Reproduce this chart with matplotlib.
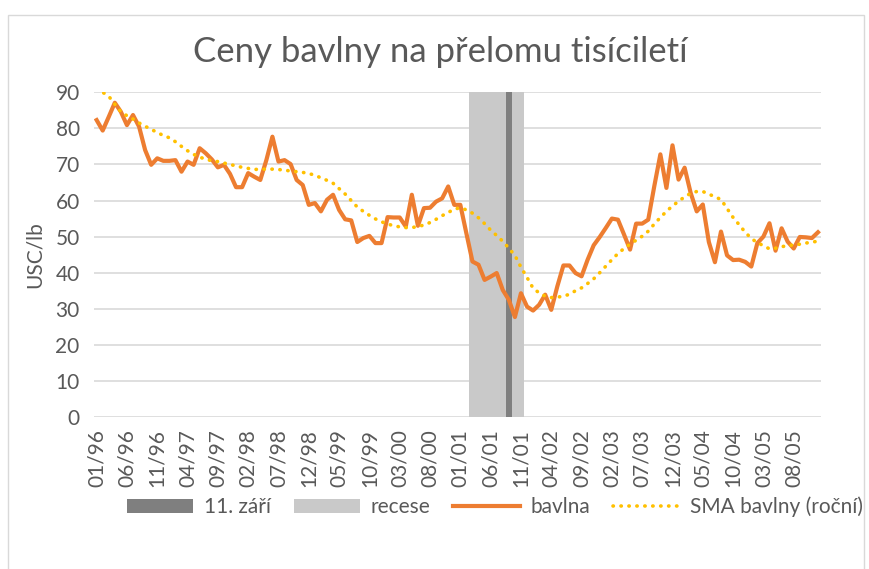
import numpy as np
import pandas as pd
import matplotlib
matplotlib.use('Agg')
from matplotlib import pyplot as plt
from matplotlib.patches import Rectangle

# monthly categories 01/96 .. 12/05
months = pd.date_range('1996-01-01', periods=120, freq='MS').strftime('%m/%y').tolist()

# cotton price, USC/lb
bavlna = [82.3, 79.4, 83.2, 87.1, 84.6, 80.9, 83.7, 80.5, 74.0, 69.9,
          71.7, 71.0, 71.0, 71.2, 68.0, 70.8, 69.9, 74.5, 73.1, 71.4,
          69.2, 69.9, 67.4, 63.7, 63.7, 67.6, 66.6, 65.7, 71.2, 77.7,
          70.8, 71.2, 70.1, 65.7, 64.3, 58.8, 59.3, 57.0, 60.2, 61.6,
          57.4, 54.8, 54.5, 48.5, 49.6, 50.2, 48.2, 48.2, 55.4, 55.3,
          55.3, 52.8, 61.6, 53.0, 57.9, 58.0, 59.7, 60.6, 63.9, 58.8,
          58.8, 50.9, 43.1, 42.2, 38.0, 38.9, 39.9, 35.2, 32.5, 27.7,
          34.3, 30.6, 29.5, 31.1, 33.9, 29.7, 36.2, 42.0, 42.0, 39.9,
          39.0, 43.6, 47.6, 49.9, 52.4, 55.0, 54.7, 50.6, 46.4, 53.6,
          53.6, 54.7, 64.0, 72.8, 63.5, 75.3, 65.8, 69.1, 62.1, 57.0,
          58.9, 48.5, 42.9, 51.4, 44.8, 43.5, 43.6, 43.0, 41.7, 48.2,
          50.0, 53.7, 46.1, 52.3, 48.6, 46.7, 49.9, 49.8, 49.6, 51.2]

# yearly moving average
sma = [90.8, 90.0, 88.9, 86.7, 84.6, 83.5, 82.6, 81.5, 80.6, 79.7,
       78.9, 78.0, 77.4, 76.3, 75.0, 73.8, 72.8, 72.0, 71.5, 71.0,
       70.8, 70.4, 70.0, 69.6, 69.2, 68.9, 68.6, 68.7, 68.7, 68.7,
       68.6, 68.4, 68.2, 68.0, 67.8, 67.5, 67.0, 66.3, 65.6, 64.8,
       63.3, 61.8, 60.0, 58.2, 57.0, 55.9, 54.9, 54.1, 53.5, 53.0,
       52.7, 52.5, 52.5, 52.8, 53.2, 53.9, 54.8, 55.8, 56.7, 57.6,
       58.0, 57.4, 56.5, 55.2, 53.6, 51.8, 50.3, 48.7, 46.8, 44.8,
       41.5, 38.7, 35.7, 34.4, 33.5, 33.1, 33.2, 33.5, 34.0, 35.0,
       35.8, 37.0, 38.3, 40.0, 41.8, 43.6, 45.3, 46.7, 47.9, 49.0,
       50.1, 51.5, 53.5, 55.3, 57.0, 58.5, 59.8, 61.0, 62.0, 62.5,
       62.5, 61.8, 61.0, 60.3, 57.8, 55.3, 53.3, 51.2, 49.5, 48.3,
       47.5, 46.6, 46.8, 47.2, 47.5, 47.7, 47.9, 48.2, 48.5, 48.7]

recese_months = ['03/01', '04/01', '05/01', '06/01', '07/01', '08/01', '09/01', '10/01', '11/01']
zari_months = ['09/01']
bar_top = 90

grey = '#595959'
plt.rcParams['font.family'] = ['Lato', 'DejaVu Sans']

fig = plt.figure(figsize=(8.7, 5.69), dpi=100)
ax = fig.add_axes([93.6 / 870, 1 - 417 / 569, (821 - 93.6) / 870, (417 - 92.3) / 569])

x = np.arange(len(months))
rec_x = [months.index(m) for m in recese_months]
zar_x = [months.index(m) for m in zari_months]

ax.bar(rec_x, [bar_top] * len(rec_x), width=1.0, color='#C9C9C9', zorder=2, label='recese')
ax.bar(zar_x, [bar_top] * len(zar_x), width=1.0, color='#7F7F7F', zorder=3, label='11. září')
ax.plot(x, bavlna, color='#ED7D31', lw=3.0, solid_joinstyle='round', zorder=4, label='bavlna')
ax.plot(x, sma, color='#FFC000', lw=2.6, linestyle=(0, (0.1, 2.1)), dash_capstyle='round',
        zorder=5, label='SMA bavlny (roční)')

ax.set_xlim(-0.5, len(months) - 0.5)
ax.set_ylim(0, 90)
ax.set_yticks(range(0, 91, 10))
ax.set_xticks(x[::5])
ax.set_xticklabels(months[::5], rotation=90)
ax.tick_params(length=0, labelsize=15, labelcolor=grey)
ax.tick_params(axis='y', pad=10)
ax.tick_params(axis='x', pad=9)
ax.grid(axis='y', color='#D9D9D9', lw=1.2, zorder=0)
ax.set_axisbelow(True)
for s in ax.spines.values():
    s.set_visible(False)
ax.set_ylabel('USC/lb', fontsize=15, color=grey, labelpad=8)

fig.text(440 / 870, 1 - 52 / 569, 'Ceny bavlny na přelomu tisíciletí', ha='center', va='center',
         fontsize=25, color=grey)

h, l = ax.get_legend_handles_labels()
by_label = dict(zip(l, h))
leg_order = ['11. září', 'recese', 'bavlna', 'SMA bavlny (roční)']
leg = fig.legend([by_label[k] for k in leg_order], leg_order, loc='center',
                 bbox_to_anchor=(495 / 870, 1 - 507 / 569), ncol=4, frameon=False,
                 fontsize=15, handlelength=3.2, handleheight=0.6, columnspacing=1.1,
                 handletextpad=0.5, borderaxespad=0)
for t in leg.get_texts():
    t.set_color(grey)

fig.patches.append(Rectangle((8 / 870, -0.05), (864 - 8) / 870, 1.05 - 15 / 569,
                             transform=fig.transFigure, fill=False, edgecolor='#D9D9D9', lw=1))

fig.savefig('out.png', dpi=100)
